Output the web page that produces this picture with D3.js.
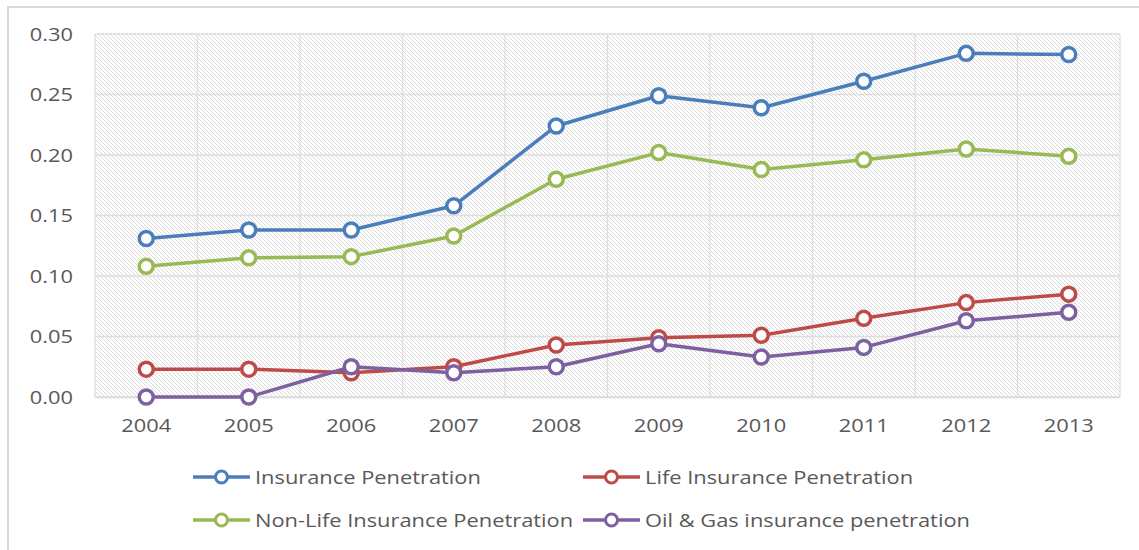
<!DOCTYPE html>
<html><head><meta charset="utf-8">
<script src="https://cdn.jsdelivr.net/npm/d3@7"></script>
<style>html,body{margin:0;padding:0;background:#fff;}svg{display:block;}</style>
</head><body>
<svg id="chart" width="1139" height="550"></svg>
<script>
const years = ["2004","2005","2006","2007","2008","2009","2010","2011","2012","2013"];
const insurance = [0.131,0.138,0.138,0.158,0.224,0.249,0.239,0.261,0.284,0.283];
const lifeIns = [0.023,0.023,0.020,0.025,0.043,0.049,0.051,0.065,0.078,0.085];
const nonLife = [0.108,0.115,0.116,0.133,0.180,0.202,0.188,0.196,0.205,0.199];
const oilGas = [0.000,0.000,0.025,0.020,0.025,0.044,0.033,0.041,0.063,0.070];
const yTicks = [0,0.05,0.10,0.15,0.20,0.25,0.30];
const seriesNames = ["Insurance Penetration","Life Insurance Penetration","Non-Life Insurance Penetration","Oil & Gas insurance penetration"];
const seriesColors = ["#4a7ebb","#be4b48","#98b954","#7d60a0"];
const seriesValues = [insurance, lifeIns, nonLife, oilGas];

const svg = d3.select("#chart");
const font = "'Open Sans', sans-serif";
const SX = 1.15;
const m = {left:95, right:1120, top:34, bottom:397};

function stretch(sel){
  sel.each(function(){
    const t = d3.select(this);
    const x0 = +t.attr("x") || 0;
    t.attr("transform",`translate(${x0},0) scale(${SX},1) translate(${-x0},0)`);
  });
}

// outer frame
svg.append("path").attr("d","M8,550 L8,7 L1139,7").attr("fill","none").attr("stroke","#d9d9d9").attr("stroke-width",2);

// hatch pattern
const defs = svg.append("defs");
const pat = defs.append("pattern").attr("id","hatch").attr("patternUnits","userSpaceOnUse")
  .attr("width",4).attr("height",4);
pat.append("rect").attr("width",4).attr("height",4).attr("fill","#fff");
pat.append("path").attr("d","M-1,-1 L5,5 M-1,3 L1,5 M3,-1 L5,1").attr("stroke","#dadada").attr("stroke-width",1);

const x = d3.scaleBand().domain(years).range([m.left,m.right]);
const y = d3.scaleLinear().domain([0,0.30]).range([m.bottom,m.top]);

svg.append("rect").attr("x",m.left).attr("y",m.top).attr("width",m.right-m.left).attr("height",m.bottom-m.top)
  .attr("fill","url(#hatch)");

// horizontal gridlines
svg.append("g").selectAll("line").data(yTicks).join("line")
  .attr("x1",m.left).attr("x2",m.right).attr("y1",d=>y(d)).attr("y2",d=>y(d))
  .attr("stroke","#dedede").attr("stroke-width",1.3);
// vertical gridlines at band boundaries
const bounds = years.map(d=>x(d)).concat([m.right]);
svg.append("g").selectAll("line").data(bounds).join("line")
  .attr("x1",d=>d).attr("x2",d=>d).attr("y1",m.top).attr("y2",m.bottom)
  .attr("stroke","#dedede").attr("stroke-width",1.3);

// y axis labels
const yAxis = d3.axisLeft(y).tickValues(yTicks).tickFormat(d3.format(".2f")).tickSize(0).tickPadding(22);
const gy = svg.append("g").attr("transform",`translate(${m.left},0)`).call(yAxis);
gy.select(".domain").remove();
gy.selectAll("text").attr("font-family",font).attr("font-size",19).attr("fill","#595959").call(stretch);

// x axis
const xAxis = d3.axisBottom(x).tickSize(0).tickPadding(22);
const gx = svg.append("g").attr("transform",`translate(0,${m.bottom})`).call(xAxis);
gx.select(".domain").attr("stroke","#d9d9d9").attr("stroke-width",1.5);
gx.selectAll("text").attr("font-family",font).attr("font-size",19).attr("fill","#595959").call(stretch);

// lines
const line = d3.line().x((d,i)=>x(years[i])+x.bandwidth()/2).y(d=>y(d));
seriesValues.forEach((vals,k)=>{
  svg.append("path").datum(vals).attr("d",line).attr("fill","none")
    .attr("stroke",seriesColors[k]).attr("stroke-width",3.5).attr("stroke-linejoin","round");
});
seriesValues.forEach((vals,k)=>{
  svg.append("g").selectAll("circle").data(vals).join("circle")
    .attr("cx",(d,i)=>x(years[i])+x.bandwidth()/2).attr("cy",d=>y(d)).attr("r",7)
    .attr("fill","#fff").attr("stroke",seriesColors[k]).attr("stroke-width",3.5);
});

// legend
const legPos = [[193,477],[583,477],[193,520],[583,520]];
seriesNames.forEach((name,k)=>{
  const [lx,ly] = legPos[k];
  const g = svg.append("g").attr("transform",`translate(${lx},${ly})`);
  g.append("line").attr("x1",0).attr("x2",57).attr("y1",0).attr("y2",0)
    .attr("stroke",seriesColors[k]).attr("stroke-width",3.5);
  g.append("circle").attr("cx",28.5).attr("cy",0).attr("r",6)
    .attr("fill","#fff").attr("stroke",seriesColors[k]).attr("stroke-width",3);
  g.append("text").attr("x",62).attr("y",0).attr("dy","0.35em")
    .attr("font-family",font).attr("font-size",19).attr("fill","#595959").text(name).call(stretch);
});
</script>
</body></html>
